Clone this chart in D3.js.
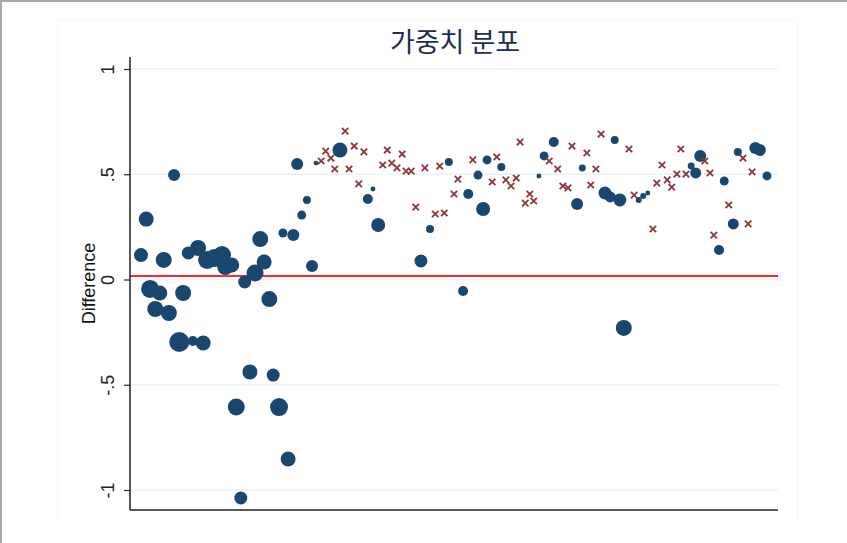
<!DOCTYPE html>
<html>
<head>
<meta charset="utf-8">
<script src="https://cdn.jsdelivr.net/npm/d3@7"></script>
<style>
  html, body { margin: 0; padding: 0; background: #fff; }
  svg { display: block; }
</style>
</head>
<body>
<svg id="chart" width="847" height="543"></svg>
<script>
// Weighted group (circles): position, difference and weight
const blueX = [1.7, 2.5, 6.8, 5.2, 3.1, 4.6, 3.9, 6.0, 8.2, 7.6, 9.7, 11.3, 9.0, 10.5, 11.9, 13.0, 14.2, 14.7, 15.7, 17.7,
  19.3, 20.7, 20.1, 21.5, 18.5, 22.1, 16.4, 23.0, 24.4, 17.1, 23.6, 25.2, 26.5, 27.3, 25.8, 28.1, 28.7, 32.4, 37.5, 36.7,
  38.3, 44.9, 46.3, 49.2, 51.4, 52.2, 53.7, 54.5, 55.1, 57.3, 63.1, 63.9, 65.4, 69.0, 69.8, 73.3, 74.1, 75.6, 74.8, 76.2,
  78.5, 79.2, 79.9, 88.0, 86.6, 87.3, 90.9, 91.7, 93.1, 93.8, 96.5, 97.2, 98.3];
const blueY = [0.116, 0.287, 0.496, 0.093, -0.045, -0.064, -0.140, -0.159, -0.064, -0.297, -0.292, -0.302, 0.126, 0.150, 0.093, 0.102, 0.116, 0.059, 0.069, -0.012,
  0.031, 0.083, 0.192, -0.093, -0.439, -0.454, -0.606, -0.606, -0.853, -1.038, 0.221, 0.211, 0.306, 0.378, 0.549, 0.064, 0.553, 0.615, 0.430, 0.382,
  0.259, 0.088, 0.240, 0.558, -0.055, 0.406, 0.496, 0.335, 0.568, 0.534, 0.492, 0.587, 0.653, 0.359, 0.530, 0.411, 0.392, 0.378, 0.663, -0.230,
  0.378, 0.397, 0.411, 0.587, 0.539, 0.506, 0.140, 0.468, 0.264, 0.606, 0.625, 0.615, 0.492];
const blueW = [49, 56, 36, 64, 81, 56, 64, 64, 64, 100, 25, 56, 42, 64, 81, 81, 81, 64, 56, 42,
  72, 56, 64, 64, 56, 42, 72, 81, 56, 42, 20, 36, 20, 16, 36, 36, 6, 56, 6, 25,
  49, 42, 16, 16, 25, 25, 20, 49, 20, 16, 6, 20, 25, 36, 12, 42, 30, 42, 16, 64,
  9, 9, 6, 36, 12, 30, 25, 20, 30, 16, 36, 36, 20];

// Unweighted group (crosses)
const redX = [29.5, 30.2, 31.0, 31.6, 33.2, 33.8, 34.6, 35.3, 36.1, 39.0, 39.7, 40.4, 41.2, 42.0, 42.6, 43.4, 44.1, 45.5, 47.1, 47.8,
  48.5, 50.0, 50.6, 52.9, 55.9, 56.6, 58.0, 58.8, 59.6, 60.2, 61.0, 61.7, 62.3, 64.7, 66.0, 66.8, 67.6, 68.2, 70.5, 71.1,
  71.9, 72.7, 77.0, 77.8, 80.7, 81.3, 82.1, 82.9, 83.6, 84.4, 85.0, 85.8, 88.7, 89.5, 90.1, 92.4, 94.6, 95.4, 96.0];
const redY = [0.563, 0.610, 0.577, 0.525, 0.705, 0.525, 0.634, 0.454, 0.606, 0.544, 0.615, 0.553, 0.530, 0.596, 0.515, 0.515, 0.344, 0.530, 0.311, 0.539,
  0.316, 0.406, 0.477, 0.568, 0.463, 0.582, 0.473, 0.444, 0.482, 0.653, 0.363, 0.406, 0.373, 0.563, 0.525, 0.444, 0.435, 0.634, 0.601, 0.449,
  0.525, 0.691, 0.620, 0.401, 0.240, 0.458, 0.544, 0.473, 0.439, 0.501, 0.620, 0.501, 0.563, 0.506, 0.211, 0.354, 0.577, 0.264, 0.511];

const yTickValues = [-1, -0.5, 0, 0.5, 1];
const yTickLabels = ["-1", "-.5", "0", ".5", "1"];
const refLine = 0.017;
const titleText = "가중치 분포";
const yTitle = "Difference";

const svg = d3.select("#chart");
const W = 847, H = 543;
const plot = { left: 130, right: 778, top: 57, bottom: 510 };

const x = d3.scaleLinear().domain([0, 100]).range([plot.left, plot.right]);
const y = d3.scaleLinear().domain([-1, 1]).range([490, 69]);
const r = d3.scaleSqrt().domain([0, 100]).range([0, 10]);

const NAVY = "#1a476f", MAROON = "#90353b";

// outer frame (top and left edges)
svg.append("line").attr("x1", 0).attr("x2", W).attr("y1", 1).attr("y2", 1)
  .attr("stroke", "#a8a8a8").attr("stroke-width", 2);
svg.append("line").attr("x1", 1).attr("x2", 1).attr("y1", 0).attr("y2", H)
  .attr("stroke", "#a8a8a8").attr("stroke-width", 2);

// faint graph region outline
svg.append("path")
  .attr("d", "M57.5,520V20.5H797.5V520")
  .attr("fill", "none").attr("stroke", "#f5f5f5").attr("stroke-width", 1);

// gridlines
svg.append("g").selectAll("line").data(yTickValues).join("line")
  .attr("x1", plot.left).attr("x2", plot.right)
  .attr("y1", d => y(d)).attr("y2", d => y(d))
  .attr("stroke", "#eaf2f3").attr("stroke-width", 1.5);

// reference line
svg.append("line")
  .attr("x1", plot.left).attr("x2", plot.right)
  .attr("y1", y(refLine)).attr("y2", y(refLine))
  .attr("stroke", "#ff2a2a").attr("stroke-width", 2);

// y axis
const yAxis = d3.axisLeft(y).tickValues(yTickValues)
  .tickFormat((d, i) => yTickLabels[i]).tickSize(6).tickPadding(5);
const gy = svg.append("g").attr("transform", `translate(${plot.left},0)`).call(yAxis);
gy.select(".domain").remove();
gy.selectAll(".tick line").attr("stroke", "#222").attr("stroke-width", 1.2);
gy.selectAll(".tick text")
  .attr("font-family", "Liberation Sans, Arial, sans-serif")
  .attr("font-size", 18).attr("fill", "#222")
  .attr("text-anchor", "middle")
  .attr("x", null).attr("dy", null)
  .attr("transform", "translate(-22,0) rotate(-90)")
  .attr("dominant-baseline", "central");

// axis lines
svg.append("line").attr("x1", plot.left).attr("x2", plot.left)
  .attr("y1", plot.top).attr("y2", plot.bottom)
  .attr("stroke", "#222").attr("stroke-width", 1.5);
svg.append("line").attr("x1", plot.left).attr("x2", plot.right)
  .attr("y1", plot.bottom).attr("y2", plot.bottom)
  .attr("stroke", "#222").attr("stroke-width", 1.5);

// y axis title
svg.append("text")
  .attr("transform", `translate(89,${(plot.top + plot.bottom) / 2}) rotate(-90)`)
  .attr("text-anchor", "middle").attr("dominant-baseline", "central")
  .attr("font-family", "Liberation Sans, Arial, sans-serif")
  .attr("font-size", 18).attr("fill", "#111")
  .text(yTitle);

// title
svg.append("text")
  .attr("x", (plot.left + plot.right) / 2 + 1).attr("y", 52)
  .attr("text-anchor", "middle")
  .attr("font-family", "Noto Sans CJK KR, sans-serif")
  .attr("font-size", 27).attr("fill", "#1b2f52")
  .text(titleText);

// circles, drawn larger weights first
const blue = blueX.map((v, i) => ({ x: v, y: blueY[i], w: blueW[i] }))
  .sort((a, b) => b.w - a.w);
svg.append("g").selectAll("circle").data(blue).join("circle")
  .attr("cx", d => x(d.x)).attr("cy", d => y(d.y)).attr("r", d => r(d.w))
  .attr("fill", NAVY);

// crosses
const red = redX.map((v, i) => ({ x: v, y: redY[i] }));
const s = 3.2;
svg.append("g").selectAll("path").data(red).join("path")
  .attr("d", d => {
    const cx = x(d.x), cy = y(d.y);
    return `M${cx - s},${cy - s}L${cx + s},${cy + s}M${cx - s},${cy + s}L${cx + s},${cy - s}`;
  })
  .attr("stroke", MAROON).attr("stroke-width", 1.8).attr("fill", "none");
</script>
</body>
</html>
